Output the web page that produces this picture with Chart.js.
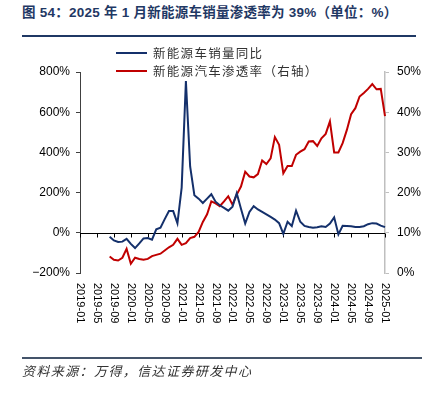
<!DOCTYPE html>
<html lang="zh">
<head>
  <meta charset="UTF-8">
  <title>新能源车销量渗透率</title>
  <script src="https://cdn.jsdelivr.net/npm/chart.js"></script>
  <style>
    body {
      margin: 0;
      background: #fff;
      font-family: "Liberation Sans", "Noto Sans CJK SC", sans-serif;
    }
    .wrap {
      position: relative;
      width: 433px;
      height: 394px;
      overflow: hidden;
    }
    .title {
      position: absolute;
      left: 22px;
      top: 4px;
      font-size: 13.5px;
      font-weight: bold;
      letter-spacing: 0.25px;
      color: #1f3864;
      line-height: 18px;
      white-space: nowrap;
    }
    .rule-top {
      position: absolute;
      left: 22px;
      top: 35px;
      width: 394px;
      height: 2px;
      background: #1f3864;
    }
    .rule-bottom {
      position: absolute;
      left: 22px;
      top: 357px;
      width: 400px;
      height: 2px;
      background: #44546a;
    }
    .source {
      position: absolute;
      left: 22px;
      top: 361px;
      font-size: 13px;
      font-style: italic;
      letter-spacing: 1.4px;
      color: #333;
      font-family: "Noto Sans CJK SC", sans-serif;
      white-space: nowrap;
    }
    .legend {
      position: absolute;
      left: 116px;
      top: 44px;
      font-family: "Noto Sans CJK SC", sans-serif;
      font-size: 12.5px;
      letter-spacing: 1.3px;
      color: #333;
      line-height: 18px;
    }
    .legend div { display: flex; align-items: center; white-space: nowrap; }
    .legend span.sw { display: inline-block; width: 31px; height: 2px; margin-right: 6px; }
    #chart { position: absolute; left: 0; top: 0; }
  </style>
</head>
<body>

<div class="wrap">
  <div class="title">图 54：2025 年 1 月新能源车销量渗透率为 39%（单位：%）</div>
  <div class="rule-top"></div>
  <canvas id="chart" width="433" height="394"></canvas>
  <div class="legend">
    <div><span class="sw" style="background:#14306b"></span>新能源车销量同比</div>
    <div><span class="sw" style="background:#c00000"></span>新能源汽车渗透率（右轴）</div>
  </div>
  <div class="rule-bottom"></div>
  <div class="source">资料来源：万得，信达证券研发中心</div>
</div>

<script>
  // 月份 2019-01 ~ 2025-01
  const months = [];
  for (let y = 2019; y <= 2025; y++) {
    for (let m = 1; m <= 12; m++) {
      if (y === 2025 && m > 1) break;
      months.push(y + '-' + String(m).padStart(2, '0'));
    }
  }

  // 新能源车销量同比 (%), 左轴
  const salesYoY = [
    null, null, null, null, null, null, null, -20, -38, -46, -44, -30,   // 2019
    -55, -76, -53, -28, -26, -34, 17, 25, 68, 108, 108, 47,               // 2020
    225, 755, 330, 187, 170, 148, 170, 192, 155, 137, 124, 110,           // 2021
    130, 197, 120, 46, 104, 132, 116, 104, 92, 79, 66, 48,                // 2022
    -5, 55, 34, 110, 55, 34, 29, 25, 28, 33, 29, 46,                      // 2023
    77, -8, 35, 34, 33, 29, 29, 33, 43, 48, 46, 36,                       // 2024
    28                                                                    // 2025
  ];

  // 新能源汽车渗透率 (%), 右轴
  const penetration = [
    null, null, null, null, null, null, null, 4.1, 3.3, 3.1, 3.8, 6.0,
    2.3, 3.8, 3.5, 3.3, 3.5, 4.2, 4.5, 4.8, 5.6, 6.4, 7.0, 8.5,
    7.0, 7.4, 8.7, 9.0, 10.2, 12.7, 14.6, 17.8, 17.3, 16.6, 17.8, 19.1,
    17.0, 19.5, 21.5, 25.2, 24.0, 23.8, 24.6, 28.0, 27.1, 28.5, 33.8, 31.9,
    24.8, 26.6, 26.6, 29.4, 30.2, 30.8, 32.7, 32.8, 31.6, 33.5, 34.6, 37.7,
    30.0, 30.0, 32.3, 35.6, 39.5, 41.0, 43.9, 44.8, 45.8, 47.0, 45.7, 45.8,
    39.0
  ];

  const leftTicks = [-200, 0, 200, 400, 600, 800];
  const rightTicks = [0, 10, 20, 30, 40, 50];
  const labelEvery = 4;

  Chart.defaults.font.family = '"Liberation Sans", Arial, sans-serif';
  Chart.defaults.font.size = 12;
  Chart.defaults.color = '#000';

  const pct = v => (v < 0 ? '\u2212' + Math.abs(v) : v) + '%';

  // x 轴：0 值处画轴线和刻度，标签放在底部并顺时针竖排
  const xAxisPlugin = {
    id: 'xAxisAtZero',
    beforeDatasetsDraw(chart) {
      const { ctx, chartArea, scales } = chart;
      const y0 = Math.round(scales.y.getPixelForValue(0)) + 0.5;
      ctx.save();
      ctx.strokeStyle = '#000';
      ctx.lineWidth = 1;
      ctx.beginPath();
      ctx.moveTo(chartArea.left, y0);
      ctx.lineTo(chartArea.right, y0);
      months.forEach((m, i) => {
        if (i % labelEvery !== 0) return;
        const x = Math.round(scales.x.getPixelForValue(i)) + 0.5;
        ctx.moveTo(x, y0);
        ctx.lineTo(x, y0 + 4);
      });
      ctx.stroke();
      ctx.restore();
    },
    afterDraw(chart) {
      const { ctx, chartArea, scales } = chart;
      ctx.save();
      ctx.fillStyle = '#000';
      ctx.font = '11px "Liberation Sans", Arial, sans-serif';
      ctx.textAlign = 'left';
      ctx.textBaseline = 'middle';
      months.forEach((m, i) => {
        if (i % labelEvery !== 0) return;
        const x = scales.x.getPixelForValue(i);
        ctx.save();
        ctx.translate(x, chartArea.bottom + 10);
        ctx.rotate(Math.PI / 2);
        ctx.fillText(m, 0, 0);
        ctx.restore();
      });
      ctx.restore();
    }
  };

  new Chart(document.getElementById('chart'), {
    type: 'line',
    data: {
      labels: months,
      datasets: [
        {
          label: '新能源车销量同比',
          data: salesYoY,
          yAxisID: 'y',
          borderColor: '#14306b',
          borderWidth: 2,
          pointRadius: 0,
          tension: 0
        },
        {
          label: '新能源汽车渗透率（右轴）',
          data: penetration,
          yAxisID: 'y1',
          borderColor: '#c00000',
          borderWidth: 2,
          pointRadius: 0,
          tension: 0
        }
      ]
    },
    options: {
      responsive: false,
      animation: false,
      layout: { padding: { top: 72, bottom: 121, left: 0, right: 0 } },
      plugins: {
        legend: { display: false },
        tooltip: { enabled: false }
      },
      scales: {
        x: {
          display: false,
          offset: false
        },
        y: {
          position: 'left',
          min: leftTicks[0],
          max: leftTicks[leftTicks.length - 1],
          afterBuildTicks: s => { s.ticks = leftTicks.map(v => ({ value: v })); },
          afterFit: s => { s.width = 80; },
          ticks: {
            callback: pct,
            padding: 6,
            color: '#000'
          },
          grid: {
            drawOnChartArea: false,
            tickLength: 4,
            tickColor: '#404040'
          },
          border: { color: '#404040', width: 1 }
        },
        y1: {
          position: 'right',
          min: rightTicks[0],
          max: rightTicks[rightTicks.length - 1],
          afterBuildTicks: s => { s.ticks = rightTicks.map(v => ({ value: v })); },
          afterFit: s => { s.width = 48; },
          ticks: {
            callback: pct,
            padding: 8,
            color: '#000'
          },
          grid: {
            drawOnChartArea: false,
            tickLength: 4,
            tickColor: '#bfbfbf'
          },
          border: { color: '#bfbfbf', width: 1.5 }
        }
      }
    },
    plugins: [xAxisPlugin]
  });
</script>

</body>
</html>
